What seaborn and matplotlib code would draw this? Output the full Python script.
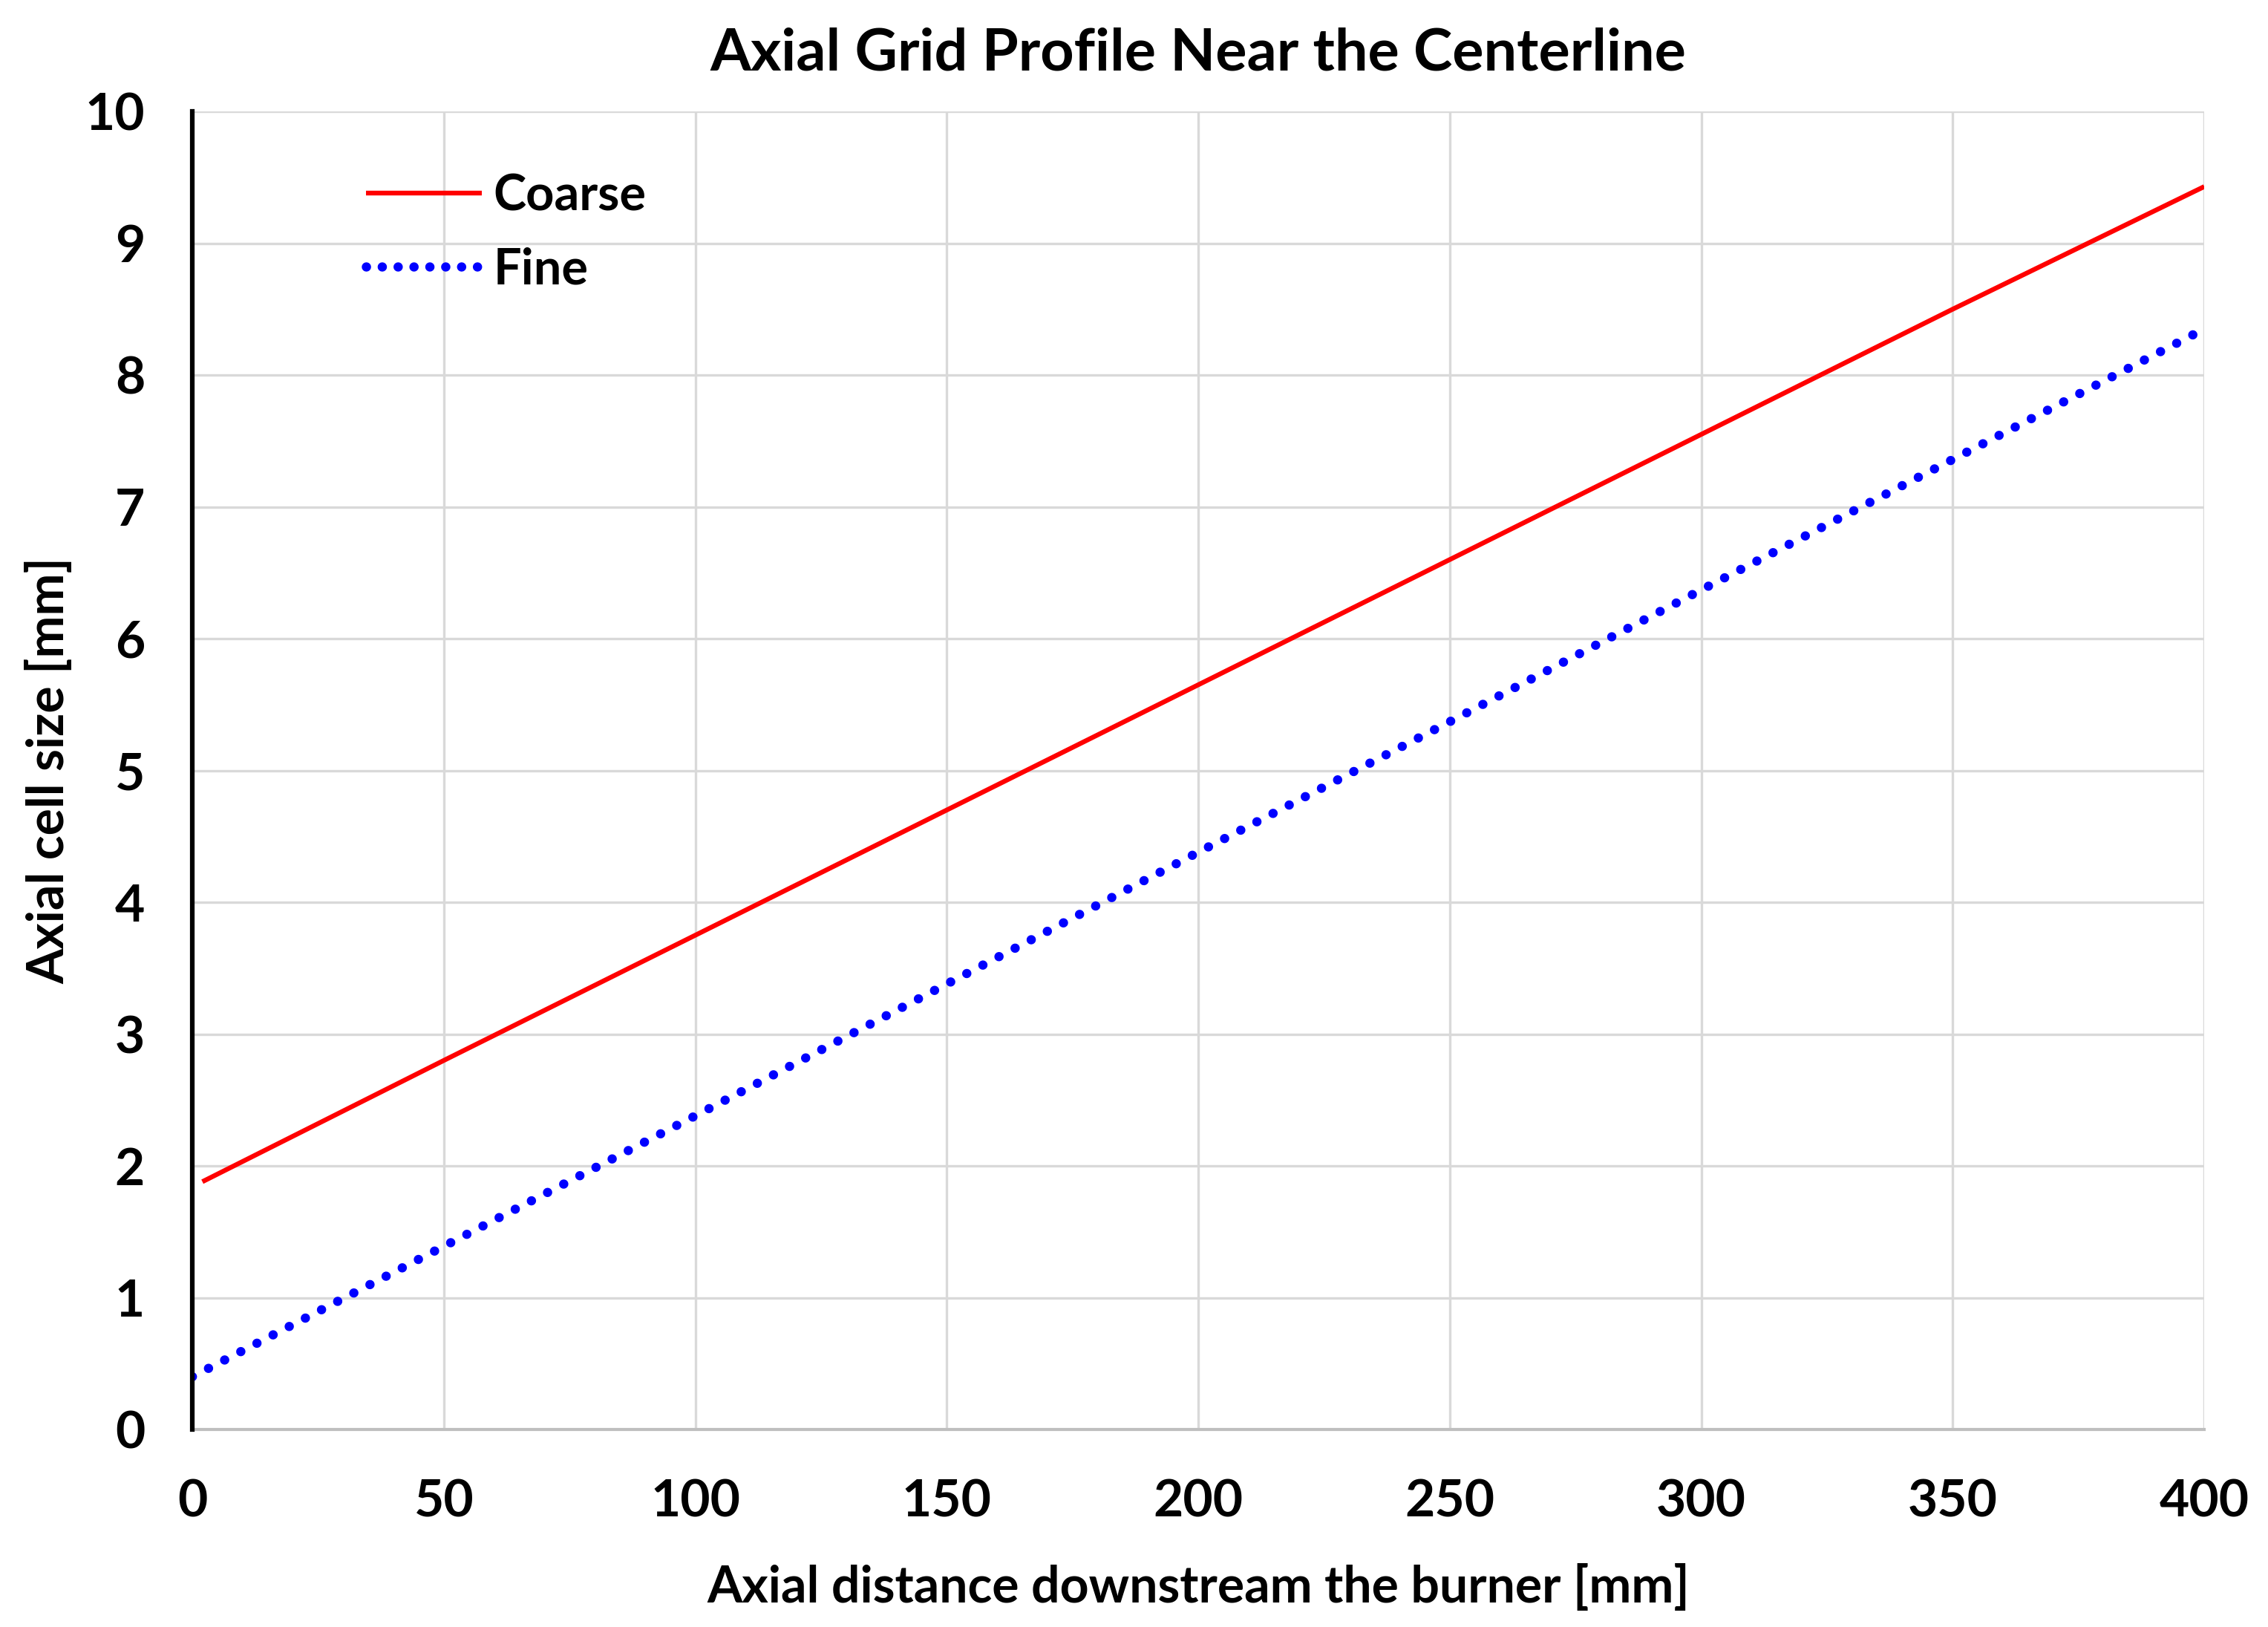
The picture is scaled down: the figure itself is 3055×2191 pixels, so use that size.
import numpy as np
import pandas as pd
import matplotlib
matplotlib.use("Agg")
import matplotlib.pyplot as plt
import seaborn as sns

# ---- data ----
coarse_x = [2, 50, 100, 150, 200, 250, 300, 350, 400]
coarse_y = [1.88, 2.80, 3.75, 4.70, 5.65, 6.60, 7.55, 8.50, 9.43]
fine_x = [0, 50, 100, 150, 200, 250, 300, 350, 400]
fine_y = [0.40, 1.39, 2.38, 3.38, 4.38, 5.37, 6.37, 7.36, 8.35]
series_names = ["Coarse", "Fine"]
x_ticks = [0, 50, 100, 150, 200, 250, 300, 350, 400]
y_ticks = [0, 1, 2, 3, 4, 5, 6, 7, 8, 9, 10]
title = "Axial Grid Profile Near the Centerline"
x_label = "Axial distance downstream the burner [mm]"
y_label = "Axial cell size [mm]"

df_coarse = pd.DataFrame({"x": coarse_x, "y": coarse_y})
df_fine = pd.DataFrame({"x": fine_x, "y": fine_y})

sns.set_theme(style="white")
plt.rcParams['font.family'] = ['Lato', 'DejaVu Sans']
plt.rcParams['font.weight'] = 'bold'
for k in ["text.color", "axes.labelcolor", "xtick.color", "ytick.color"]:
    plt.rcParams[k] = "black"

fig = plt.figure(figsize=(30.55, 21.91), dpi=100)
ax = fig.add_axes([0.0848, 0.1214, 0.9719 - 0.0848, 0.9315 - 0.1214])

sns.lineplot(data=df_coarse, x="x", y="y", ax=ax, color="#ff0000",
             linewidth=4.6, label=series_names[0], solid_capstyle="butt")
sns.lineplot(data=df_fine, x="x", y="y", ax=ax, color="#0000ff",
             linewidth=9.0, label=series_names[1])
fine_line = ax.get_lines()[1]
fine_line.set_linestyle((0, (0.01, 1.95)))
fine_line.set_dash_capstyle("round")

ax.set_xlim(0, 400)
ax.set_ylim(0, 10)
ax.set_xticks(x_ticks)
ax.set_yticks(y_ticks)
ax.grid(True, color="#d9d9d9", linewidth=2.4)
ax.set_axisbelow(True)
for s in ["top", "right"]:
    ax.spines[s].set_visible(False)
ax.spines["left"].set_color("black")
ax.spines["left"].set_linewidth(4.5)
ax.spines["left"].set_zorder(5)
ax.spines["bottom"].set_color("#bfbfbf")
ax.spines["bottom"].set_linewidth(3)

ax.tick_params(axis="both", length=0, labelsize=50)
ax.tick_params(axis="x", pad=48)
ax.tick_params(axis="y", pad=46)
for lab in ax.get_xticklabels() + ax.get_yticklabels():
    lab.set_fontweight("bold")

ax.set_xlabel(x_label, fontsize=49, fontweight="bold", labelpad=37)
ax.set_ylabel(y_label, fontsize=49, fontweight="bold", labelpad=12)
ax.set_title(title, fontsize=57, fontweight="bold", pad=40)

leg = ax.legend(loc="upper left", bbox_to_anchor=(0.0765, 0.968), frameon=False,
                fontsize=48, handlelength=2.34, handletextpad=0.23, labelspacing=0.55,
                borderaxespad=0)
for t in leg.get_texts():
    t.set_fontweight("bold")
leg.get_lines()[1].set_linestyle((0, (0.01, 1.7)))
leg.get_lines()[1].set_dash_capstyle("round")

fig.savefig("out.png", dpi=100, facecolor="white")
